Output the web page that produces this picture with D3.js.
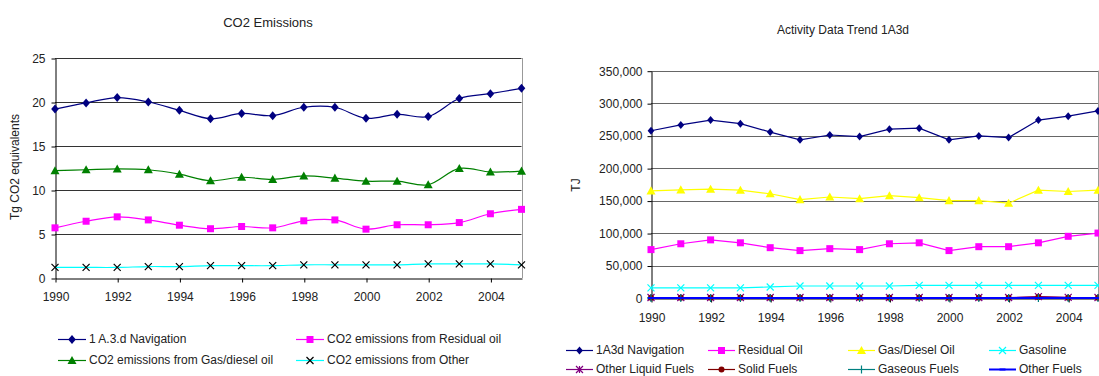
<!DOCTYPE html>
<html>
<head>
<meta charset="utf-8">
<script src="https://cdn.jsdelivr.net/npm/d3@7"></script>
<style>
body { margin: 0; background: #fff; }
text { font-family: "Liberation Sans", Arial, sans-serif; fill: #222; }
</style>
</head>
<body>
<div id="main"></div>
<script>
// categories
var years = [1990, 1991, 1992, 1993, 1994, 1995, 1996, 1997, 1998, 1999, 2000, 2001, 2002, 2003, 2004, 2005];
var yearTicks = [1990, 1992, 1994, 1996, 1998, 2000, 2002, 2004];

// left chart: CO2 emissions, Tg CO2 equivalents
var co2Ticks = [0, 5, 10, 15, 20, 25];
var co2Navigation = [19.2, 19.9, 20.5, 20.0, 19.05, 18.1, 18.7, 18.45, 19.4, 19.4, 18.15, 18.6, 18.35, 20.4, 20.95, 21.55];
var co2Residual   = [5.7, 6.45, 6.95, 6.6, 6.0, 5.6, 5.85, 5.7, 6.5, 6.6, 5.55, 6.05, 6.05, 6.3, 7.3, 7.8];
var co2GasDiesel  = [12.2, 12.3, 12.4, 12.3, 11.8, 11.05, 11.45, 11.2, 11.6, 11.35, 11.0, 11.0, 10.6, 12.45, 12.05, 12.15];
var co2Other      = [1.2, 1.2, 1.2, 1.3, 1.3, 1.4, 1.4, 1.4, 1.5, 1.5, 1.5, 1.5, 1.6, 1.6, 1.6, 1.5];
var co2Labels = ["1 A.3.d Navigation", "CO2 emissions from Residual oil",
                 "CO2 emissions from Gas/diesel oil", "CO2 emissions from Other"];

// right chart: activity data, TJ
var tjTicks = [0, 50000, 100000, 150000, 200000, 250000, 300000, 350000];
var tjNavigation  = [257500, 266500, 274000, 268500, 255500, 243500, 251000, 248500, 260000, 261500, 243500, 249500, 247000, 274000, 280000, 288000];
var tjResidual    = [74500, 83500, 89500, 85000, 77500, 73000, 76000, 74500, 83500, 85000, 73000, 79000, 79000, 85000, 95000, 100000];
var tjGasDiesel   = [165000, 166500, 167500, 166000, 160500, 151500, 155500, 153000, 157500, 154500, 150000, 150000, 146000, 166000, 164000, 166000];
var tjGasoline    = [15500, 15500, 15500, 15500, 17000, 18500, 18500, 18500, 18500, 19500, 19500, 19500, 19500, 19500, 19500, 19500];
var tjOtherLiquid = [700, 700, 700, 700, 700, 700, 700, 700, 700, 700, 700, 700, 700, 2200, 900, 700];
var tjSolid       = [400, 400, 400, 400, 400, 400, 400, 400, 400, 400, 400, 400, 400, 1500, 500, 400];
var tjGaseous     = [100, 100, 100, 100, 100, 100, 100, 100, 100, 100, 100, 100, 100, 100, 100, 100];
var tjOtherFuels  = [0, 0, 0, 0, 0, 0, 0, 0, 0, 0, 0, 0, 0, 0, 0, 0];
var tjLabels = ["1A3d Navigation", "Residual Oil", "Gas/Diesel Oil", "Gasoline",
                "Other Liquid Fuels", "Solid Fuels", "Gaseous Fuels", "Other Fuels"];

// marker shapes (relative to the point)
var markers = {
    diamond:  function(r){ return "M0," + (-r) + "L" + r*0.85 + ",0L0," + r + "L" + (-r*0.85) + ",0Z"; },
    square:   function(r){ return "M" + (-r) + "," + (-r) + "h" + 2*r + "v" + 2*r + "h" + (-2*r) + "Z"; },
    triangle: function(r){ return "M0," + (-r) + "L" + r + "," + r*0.8 + "L" + (-r) + "," + r*0.8 + "Z"; },
    cross:    function(r){ return "M" + (-r) + "," + (-r) + "L" + r + "," + r + "M" + (-r) + "," + r + "L" + r + "," + (-r); },
    star:     function(r){ return "M" + (-r) + "," + (-r) + "L" + r + "," + r + "M" + (-r) + "," + r + "L" + r + "," + (-r) + "M0," + (-r) + "V" + r; },
    circle:   function(r){ return "M" + r + ",0A" + r + "," + r + " 0 1,1 " + (-r) + ",0A" + r + "," + r + " 0 1,1 " + r + ",0Z"; },
    plus:     function(r){ return "M" + (-r) + ",0H" + r + "M0," + (-r) + "V" + r; },
    dash:     function(r){ return "M" + (-r) + ",-1h" + 2*r + "v2h" + (-2*r) + "Z"; }
};

var ctx = { w: 1099, h: 376 };

var leftChart = {
    title: "CO2 Emissions", titleX: 268, titleY: 27, titleSize: 13,
    yLabel: "Tg CO2 equivalents", yLabelX: 19, yLabelY: 167,
    x0: 55, x1: 521.5, y0: 278, y1: 58,
    yMax: 25, yTicks: co2Ticks, yFormat: d3.format("d"), gridColor: "#333",
    smooth: true, xLabelPad: 10, yLabelPad: 6,
    series: [
        { values: co2Navigation, line: "#000080", fill: "#000080", marker: "diamond", r: 4.5 },
        { values: co2Residual,   line: "#ff00ff", fill: "#ff00ff", marker: "square", r: 3.5 },
        { values: co2GasDiesel,  line: "#008000", fill: "#008000", marker: "triangle", r: 4.5 },
        { values: co2Other,      line: "#00ffff", fill: "none", stroke: "#000", marker: "cross", r: 3.5 }
    ],
    labels: co2Labels,
    legendCols: [58, 296], legendRows: [338.5, 359.5], legendLine: 28
};

var rightChart = {
    title: "Activity Data Trend 1A3d", titleX: 843, titleY: 34, titleSize: 12,
    yLabel: "TJ", yLabelX: 580, yLabelY: 185,
    x0: 651, x1: 1098, y0: 298, y1: 70.7,
    yMax: 350000, yTicks: tjTicks, yFormat: d3.format(","), gridColor: "#666",
    smooth: false, xLabelPad: 11, yLabelPad: 5,
    series: [
        { values: tjNavigation,  line: "#000080", fill: "#000080", marker: "diamond", r: 4 },
        { values: tjResidual,    line: "#ff00ff", fill: "#ff00ff", marker: "square", r: 3.5 },
        { values: tjGasDiesel,   line: "#ffff00", fill: "#ffff00", marker: "triangle", r: 4.5 },
        { values: tjGasoline,    line: "#00ffff", fill: "none", stroke: "#00ffff", marker: "cross", r: 3.5 },
        { values: tjOtherLiquid, line: "#800080", fill: "none", stroke: "#800080", marker: "star", r: 3.5 },
        { values: tjSolid,       line: "#800000", fill: "#800000", marker: "circle", r: 3 },
        { values: tjGaseous,     line: "#008080", fill: "none", stroke: "#008080", marker: "plus", r: 4 },
        { values: tjOtherFuels,  line: "#0000ff", fill: "#0000ff", marker: "dash", r: 3, width: 2 }
    ],
    labels: tjLabels,
    legendCols: [566, 708, 848, 989], legendRows: [349.5, 368.5], legendLine: 27
};

var drawMarker = function(g, s, x, y){
    g.append("path")
      .attr("transform", "translate(" + x + "," + y + ")")
      .attr("d", markers[s.marker](s.r))
      .attr("fill", s.fill)
      .attr("stroke", s.stroke || "none")
      .attr("stroke-width", 1.2);
};

var drawChart = function(svg, c){
    var g = svg.append("g");
    var xScale = d3.scaleLinear().domain([1990, 2005]).range([c.x0, c.x1]);
    var yScale = d3.scaleLinear().domain([0, c.yMax]).range([c.y0, c.y1]);

    // gridlines
    g.append("g").selectAll("line")
      .data(c.yTicks.slice(1))
      .enter().append("line")
      .attr("x1", c.x0).attr("x2", c.x1)
      .attr("y1", function(d){ return Math.round(yScale(d)) + 0.5; })
      .attr("y2", function(d){ return Math.round(yScale(d)) + 0.5; })
      .attr("stroke", c.gridColor);
    // right border of plot area
    g.append("line")
      .attr("x1", Math.round(c.x1) + 0.5).attr("x2", Math.round(c.x1) + 0.5)
      .attr("y1", c.y1).attr("y2", c.y0)
      .attr("stroke", "#999");

    // axes
    var yAxis = g.append("g")
      .attr("transform", "translate(" + (Math.round(c.x0) + 0.5) + ",0.5)")
      .call(d3.axisLeft(yScale).tickValues(c.yTicks).tickFormat(c.yFormat)
            .tickSize(4).tickSizeOuter(0).tickPadding(c.yLabelPad));
    var xAxis = g.append("g")
      .attr("transform", "translate(0.5," + (Math.round(c.y0) + 0.5) + ")")
      .call(d3.axisBottom(xScale).tickValues(yearTicks).tickFormat(d3.format("d"))
            .tickSize(4).tickSizeOuter(0).tickPadding(c.xLabelPad));
    [yAxis, xAxis].forEach(function(a){
        a.selectAll("text").style("font-size", "12px").style("font-family", null).attr("fill", "#222");
        a.selectAll("line, path").attr("stroke", "#000");
        a.attr("font-family", null);
    });

    // series
    var line = d3.line()
      .x(function(d, i){ return xScale(years[i]); })
      .y(function(d){ return yScale(d); })
      .curve(c.smooth ? d3.curveCatmullRom.alpha(0.5) : d3.curveLinear);
    c.series.forEach(function(s){
        g.append("path")
          .attr("d", line(s.values))
          .attr("fill", "none")
          .attr("stroke", s.line)
          .attr("stroke-width", s.width || 1.2);
        var mg = g.append("g");
        s.values.forEach(function(v, i){
            drawMarker(mg, s, xScale(years[i]), yScale(v));
        });
    });

    // titles
    g.append("text")
      .attr("x", c.titleX).attr("y", c.titleY)
      .attr("text-anchor", "middle")
      .style("font-size", c.titleSize + "px")
      .text(c.title);
    g.append("text")
      .attr("transform", "translate(" + c.yLabelX + "," + c.yLabelY + ") rotate(-90)")
      .attr("text-anchor", "middle")
      .style("font-size", "12px")
      .text(c.yLabel);

    // legend
    var nCols = c.legendCols.length;
    c.labels.forEach(function(label, i){
        var s = c.series[i];
        var lx = c.legendCols[i % nCols];
        var ly = c.legendRows[Math.floor(i / nCols)];
        g.append("line")
          .attr("x1", lx).attr("x2", lx + c.legendLine)
          .attr("y1", Math.round(ly) + 0.5).attr("y2", Math.round(ly) + 0.5)
          .attr("stroke", s.line).attr("stroke-width", s.width || 1.2);
        drawMarker(g, s, lx + c.legendLine / 2, Math.round(ly) + 0.5);
        g.append("text")
          .attr("x", lx + c.legendLine + 3)
          .attr("y", ly)
          .attr("dy", "0.35em")
          .style("font-size", "12px")
          .text(label);
    });
};

var createViz = function(){
    var svg = d3.select("#main").append("svg")
      .attr("width", ctx.w)
      .attr("height", ctx.h);
    drawChart(svg, leftChart);
    drawChart(svg, rightChart);
};

createViz();
</script>
</body>
</html>
